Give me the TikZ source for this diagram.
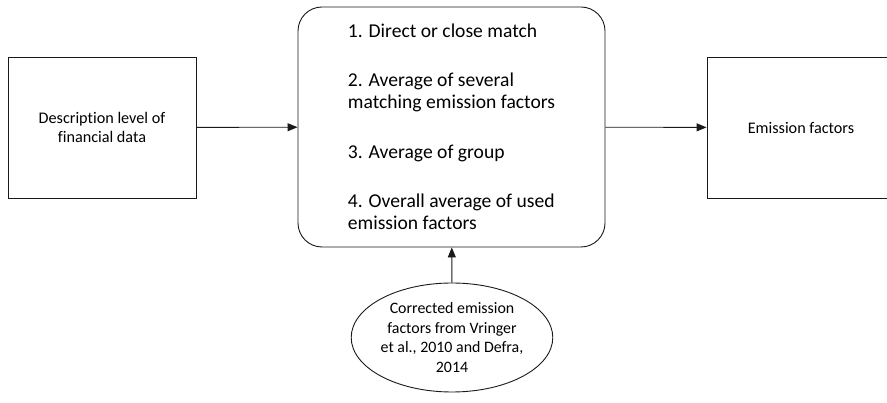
\documentclass[tikz,border=0pt]{standalone}
\usepackage{fontspec}
\setmainfont{Carlito}[Ligatures=NoCommon]
\usetikzlibrary{arrows.meta, positioning, shapes.geometric}
\definecolor{lineblk}{HTML}{1A1A1A}

\begin{document}
\begin{tikzpicture}[
  x=1pt, y=-1pt,
  >={Triangle[length=10pt, width=8pt]},
  plainbox/.style={draw=lineblk, line width=0.9pt, fill=white,
    minimum width=188pt, minimum height=141pt, inner sep=0pt,
    font=\fontsize{16.2}{19.5}\selectfont, align=center},
  stepsbox/.style={draw=lineblk, line width=0.9pt, fill=white, rounded corners=24pt,
    minimum width=307pt, minimum height=240pt, inner sep=0pt,
    font=\fontsize{19.6}{22}\selectfont, align=left},
  sourceoval/.style={ellipse, draw=lineblk, line width=0.9pt, fill=white,
    minimum width=188pt, minimum height=109pt, inner sep=0pt,
    font=\fontsize{15.9}{19.8}\selectfont, align=center},
  arr/.style={->, line width=0.9pt, lineblk},
]

% Frame
\useasboundingbox (0,0) rectangle (887,403);

% =============================================
% Boxes
% =============================================
\node[plainbox] (finance) at (102,127.5)
  {Description level of\\financial data};

\node[stepsbox] (steps) at (451.5,127)
  {1. Direct or close match\\[27pt]
   2. Average of several\\matching emission factors\\[28pt]
   3. Average of group\\[27pt]
   4. Overall average of used\\emission factors};

\node[plainbox] (factors) at (801,127.5) {Emission factors};

\node[sourceoval] (source) at (452,337.5)
  {Corrected emission\\factors from Vringer\\et al., 2010 and Defra,\\2014};

% =============================================
% Connectors
% =============================================
\draw[arr] (finance) -- (steps);
\draw[arr] (steps) -- (factors);
\draw[arr] (source) -- (steps);

\end{tikzpicture}
\end{document}
